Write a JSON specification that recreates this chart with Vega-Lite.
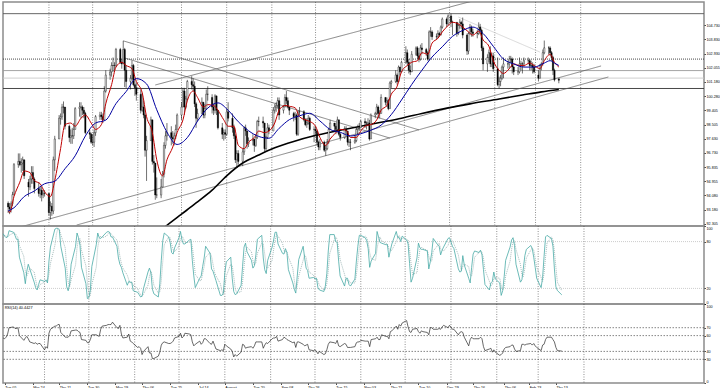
{
"$schema":"https://vega.github.io/schema/vega-lite/v6.json",
"padding":0,
"background":"#ffffff",
"spacing":0,
"bounds":"flush",
"config":{
 "view":{"stroke":"#8c8c8c","strokeWidth":1.5},
 "font":"Liberation Sans",
 "axis":{"labelFont":"Liberation Sans","labelFontSize":3.7,"labelColor":"#000","tickColor":"#000","tickSize":1.5,"tickWidth":0.7,"domain":false,"grid":false,"labelPadding":0.5},
 "concat":{"spacing":0}
},
"datasets":{
"grid":[{"d":"2013-04-01"},{"d":"2013-05-01"},{"d":"2013-06-01"},{"d":"2013-07-01"},{"d":"2013-08-01"},{"d":"2013-09-01"},{"d":"2013-10-01"},{"d":"2013-11-01"},{"d":"2013-12-01"},{"d":"2014-01-01"},{"d":"2014-02-01"},{"d":"2014-03-01"},{"d":"2014-04-01"}],
"hl":[{"v":105.44,"k":"a","t":"105.440"},{"v":102.6,"k":"b","t":"102.600"},{"v":101.88,"k":"c","t":"101.880"},{"v":101.41,"k":"d","t":"101.410"},{"v":100.76,"k":"e","t":"100.760"}],
"tl":[{"d":"2013-06-13","v":100.98,"d2":"2014-01-20","v2":106.31,"k":"s"},{"d":"2013-05-22","v":103.74,"d2":"2013-12-11","v2":98.17,"k":"s"},{"d":"2013-05-23","v":102.67,"d2":"2013-11-21","v2":97.66,"k":"s"},{"d":"2013-03-05","v":91.91,"d2":"2014-04-15","v2":102.17,"k":"s"},{"d":"2013-04-20","v":92.22,"d2":"2014-04-20","v2":101.48,"k":"s"},{"d":"2014-01-07","v":105.23,"d2":"2014-03-04","v2":103.04,"k":"d"}],
"sma":[{"d":"2013-06-10","v":91.4},{"d":"2013-06-21","v":92.2},{"d":"2013-07-01","v":92.9},{"d":"2013-07-11","v":93.6},{"d":"2013-07-22","v":94.4},{"d":"2013-08-01","v":95.3},{"d":"2013-08-12","v":96.1},{"d":"2013-08-23","v":96.6},{"d":"2013-09-03","v":97.05},{"d":"2013-09-16","v":97.45},{"d":"2013-09-30","v":97.8},{"d":"2013-10-15","v":98.1},{"d":"2013-11-01","v":98.4},{"d":"2013-11-15","v":98.65},{"d":"2013-11-29","v":98.9},{"d":"2013-12-13","v":99.2},{"d":"2013-12-31","v":99.55},{"d":"2014-01-15","v":99.8},{"d":"2014-02-04","v":100.1},{"d":"2014-02-20","v":100.35},{"d":"2014-03-05","v":100.55},{"d":"2014-03-17","v":100.7}],
"red":[{"d":"2013-03-04","v":93.1},{"d":"2013-03-05","v":93.0},{"d":"2013-03-08","v":94.0},{"d":"2013-03-12","v":94.9},{"d":"2013-03-15","v":95.6},{"d":"2013-03-19","v":95.5},{"d":"2013-03-22","v":95.0},{"d":"2013-03-26","v":94.8},{"d":"2013-03-29","v":94.3},{"d":"2013-04-02","v":94.0},{"d":"2013-04-05","v":95.0},{"d":"2013-04-09","v":97.0},{"d":"2013-04-12","v":98.5},{"d":"2013-04-16","v":98.6},{"d":"2013-04-19","v":98.4},{"d":"2013-04-23","v":98.9},{"d":"2013-04-26","v":99.1},{"d":"2013-04-30","v":98.6},{"d":"2013-05-03","v":98.2},{"d":"2013-05-07","v":98.5},{"d":"2013-05-10","v":99.8},{"d":"2013-05-14","v":101.0},{"d":"2013-05-17","v":102.1},{"d":"2013-05-21","v":102.4},{"d":"2013-05-24","v":102.2},{"d":"2013-05-28","v":102.0},{"d":"2013-05-31","v":101.2},{"d":"2013-06-04","v":100.5},{"d":"2013-06-07","v":99.0},{"d":"2013-06-11","v":98.0},{"d":"2013-06-14","v":96.3},{"d":"2013-06-18","v":95.3},{"d":"2013-06-21","v":96.3},{"d":"2013-06-25","v":97.1},{"d":"2013-06-28","v":98.0},{"d":"2013-07-02","v":98.8},{"d":"2013-07-05","v":100.0},{"d":"2013-07-09","v":100.6},{"d":"2013-07-12","v":100.2},{"d":"2013-07-16","v":99.6},{"d":"2013-07-19","v":99.75},{"d":"2013-07-23","v":99.7},{"d":"2013-07-26","v":99.4},{"d":"2013-07-30","v":98.8},{"d":"2013-08-02","v":98.4},{"d":"2013-08-06","v":98.4},{"d":"2013-08-09","v":97.2},{"d":"2013-08-13","v":97.0},{"d":"2013-08-16","v":97.4},{"d":"2013-08-20","v":97.7},{"d":"2013-08-23","v":98.1},{"d":"2013-08-27","v":98.0},{"d":"2013-08-30","v":98.1},{"d":"2013-09-03","v":98.6},{"d":"2013-09-06","v":99.4},{"d":"2013-09-10","v":99.7},{"d":"2013-09-13","v":99.65},{"d":"2013-09-17","v":99.55},{"d":"2013-09-20","v":99.0},{"d":"2013-09-24","v":98.8},{"d":"2013-09-27","v":98.7},{"d":"2013-10-01","v":98.4},{"d":"2013-10-04","v":97.7},{"d":"2013-10-08","v":97.2},{"d":"2013-10-11","v":97.6},{"d":"2013-10-15","v":98.0},{"d":"2013-10-18","v":98.2},{"d":"2013-10-22","v":98.15},{"d":"2013-10-25","v":97.7},{"d":"2013-10-29","v":97.7},{"d":"2013-11-01","v":98.1},{"d":"2013-11-05","v":98.45},{"d":"2013-11-08","v":98.5},{"d":"2013-11-12","v":98.8},{"d":"2013-11-15","v":99.4},{"d":"2013-11-19","v":99.7},{"d":"2013-11-22","v":100.4},{"d":"2013-11-26","v":100.9},{"d":"2013-11-29","v":101.8},{"d":"2013-12-03","v":102.2},{"d":"2013-12-06","v":102.4},{"d":"2013-12-10","v":102.5},{"d":"2013-12-13","v":103.0},{"d":"2013-12-17","v":102.9},{"d":"2013-12-20","v":103.6},{"d":"2013-12-24","v":103.9},{"d":"2013-12-27","v":104.3},{"d":"2013-12-31","v":104.7},{"d":"2014-01-03","v":104.9},{"d":"2014-01-07","v":104.8},{"d":"2014-01-10","v":104.6},{"d":"2014-01-14","v":104.3},{"d":"2014-01-17","v":104.1},{"d":"2014-01-21","v":104.35},{"d":"2014-01-24","v":103.8},{"d":"2014-01-28","v":103.4},{"d":"2014-01-31","v":102.5},{"d":"2014-02-04","v":101.9},{"d":"2014-02-07","v":101.7},{"d":"2014-02-11","v":102.0},{"d":"2014-02-14","v":102.3},{"d":"2014-02-18","v":102.2},{"d":"2014-02-21","v":102.2},{"d":"2014-02-25","v":102.35},{"d":"2014-02-28","v":102.2},{"d":"2014-03-04","v":102.0},{"d":"2014-03-07","v":102.5},{"d":"2014-03-11","v":102.9},{"d":"2014-03-14","v":102.4},{"d":"2014-03-17","v":102.1}],
"blue":[{"d":"2013-03-04","v":93.1},{"d":"2013-03-08","v":93.3},{"d":"2013-03-15","v":94.0},{"d":"2013-03-22","v":94.35},{"d":"2013-03-29","v":94.8},{"d":"2013-04-05","v":94.96},{"d":"2013-04-12","v":95.74},{"d":"2013-04-19","v":96.55},{"d":"2013-04-26","v":97.79},{"d":"2013-05-03","v":98.6},{"d":"2013-05-10","v":98.78},{"d":"2013-05-17","v":99.81},{"d":"2013-05-24","v":100.57},{"d":"2013-05-31","v":101.38},{"d":"2013-06-07","v":101.05},{"d":"2013-06-14","v":99.43},{"d":"2013-06-21","v":98.03},{"d":"2013-06-28","v":97.26},{"d":"2013-07-05","v":97.69},{"d":"2013-07-12","v":98.72},{"d":"2013-07-19","v":99.53},{"d":"2013-07-26","v":99.86},{"d":"2013-08-02","v":99.4},{"d":"2013-08-09","v":98.68},{"d":"2013-08-16","v":98.12},{"d":"2013-08-23","v":97.76},{"d":"2013-08-30","v":97.65},{"d":"2013-09-06","v":98.27},{"d":"2013-09-13","v":98.81},{"d":"2013-09-20","v":99.05},{"d":"2013-09-27","v":99.21},{"d":"2013-10-04","v":98.73},{"d":"2013-10-11","v":98.2},{"d":"2013-10-18","v":98.02},{"d":"2013-10-25","v":97.79},{"d":"2013-11-01","v":97.93},{"d":"2013-11-08","v":98.15},{"d":"2013-11-15","v":98.47},{"d":"2013-11-22","v":99.13},{"d":"2013-11-29","v":100.04},{"d":"2013-12-06","v":101.01},{"d":"2013-12-13","v":101.9},{"d":"2013-12-20","v":102.73},{"d":"2013-12-27","v":103.37},{"d":"2014-01-03","v":104.02},{"d":"2014-01-10","v":104.39},{"d":"2014-01-17","v":104.6},{"d":"2014-01-24","v":104.2},{"d":"2014-01-31","v":103.4},{"d":"2014-02-07","v":102.6},{"d":"2014-02-14","v":102.3},{"d":"2014-02-21","v":102.1},{"d":"2014-02-28","v":102.1},{"d":"2014-03-07","v":102.35},{"d":"2014-03-11","v":102.5},{"d":"2014-03-14","v":102.35},{"d":"2014-03-17","v":102.2}],
"slv":[{"v":20},{"v":80}],
"rlv":[{"v":30},{"v":40},{"v":60},{"v":70}],
"p":[
{"d":"2013-03-04","o":93.58,"h":93.7,"l":92.97,"c":93.35,"s":90,"g":85,"r":57},
{"d":"2013-03-05","o":93.35,"h":93.6,"l":92.9,"c":93.22,"s":87,"g":88,"r":56},
{"d":"2013-03-06","o":93.22,"h":93.7,"l":93.0,"c":93.55,"s":85,"g":87,"r":58},
{"d":"2013-03-07","o":93.55,"h":94.3,"l":93.4,"c":94.12,"s":86,"g":86,"r":62},
{"d":"2013-03-08","o":94.12,"h":96.1,"l":94.1,"c":96.0,"s":94,"g":88,"r":70},
{"d":"2013-03-11","o":96.0,"h":96.7,"l":95.8,"c":96.2,"s":92,"g":91,"r":71},
{"d":"2013-03-12","o":96.2,"h":96.7,"l":95.9,"c":96.0,"s":88,"g":91,"r":69},
{"d":"2013-03-13","o":96.0,"h":96.4,"l":95.5,"c":96.1,"s":83,"g":88,"r":69},
{"d":"2013-03-14","o":96.1,"h":96.5,"l":95.6,"c":96.3,"s":83,"g":85,"r":70},
{"d":"2013-03-15","o":96.3,"h":96.3,"l":95.1,"c":95.3,"s":60,"g":75,"r":60},
{"d":"2013-03-18","o":94.9,"h":95.1,"l":94.0,"c":94.6,"s":40,"g":61,"r":54},
{"d":"2013-03-19","o":94.6,"h":95.3,"l":94.4,"c":95.1,"s":26,"g":42,"r":57},
{"d":"2013-03-20","o":95.1,"h":95.9,"l":94.8,"c":95.5,"s":42,"g":36,"r":59},
{"d":"2013-03-21","o":95.5,"h":95.9,"l":94.8,"c":95.1,"s":51,"g":40,"r":56},
{"d":"2013-03-22","o":95.1,"h":95.2,"l":94.2,"c":94.5,"s":45,"g":46,"r":52},
{"d":"2013-03-25","o":94.5,"h":94.9,"l":94.0,"c":94.2,"s":28,"g":41,"r":50},
{"d":"2013-03-26","o":94.2,"h":94.6,"l":93.9,"c":94.4,"s":21,"g":31,"r":51},
{"d":"2013-03-27","o":94.4,"h":94.6,"l":93.7,"c":94.1,"s":18,"g":22,"r":49},
{"d":"2013-03-28","o":94.1,"h":94.4,"l":93.9,"c":94.2,"s":25,"g":21,"r":50},
{"d":"2013-03-29","o":94.2,"h":94.4,"l":94.0,"c":94.2,"s":31,"g":25,"r":50},
{"d":"2013-04-01","o":94.2,"h":94.2,"l":92.8,"c":93.0,"s":29,"g":28,"r":42},
{"d":"2013-04-02","o":93.0,"h":93.7,"l":92.57,"c":93.4,"s":31,"g":30,"r":46},
{"d":"2013-04-03","o":93.4,"h":93.6,"l":92.8,"c":93.1,"s":27,"g":29,"r":44},
{"d":"2013-04-04","o":93.1,"h":96.5,"l":92.9,"c":96.3,"s":55,"g":38,"r":63},
{"d":"2013-04-05","o":96.3,"h":97.8,"l":95.6,"c":97.6,"s":73,"g":52,"r":68},
{"d":"2013-04-08","o":97.6,"h":99.1,"l":97.6,"c":98.9,"s":96,"g":75,"r":72},
{"d":"2013-04-09","o":98.9,"h":99.2,"l":98.5,"c":99.0,"s":97,"g":89,"r":72},
{"d":"2013-04-10","o":99.0,"h":99.8,"l":98.8,"c":99.6,"s":97,"g":97,"r":74},
{"d":"2013-04-11","o":99.6,"h":99.95,"l":99.2,"c":99.6,"s":95,"g":96,"r":74},
{"d":"2013-04-12","o":99.6,"h":99.6,"l":98.2,"c":98.4,"s":74,"g":89,"r":64},
{"d":"2013-04-15","o":98.4,"h":98.5,"l":97.4,"c":97.7,"s":46,"g":72,"r":58},
{"d":"2013-04-16","o":97.7,"h":98.2,"l":97.3,"c":97.8,"s":22,"g":47,"r":58},
{"d":"2013-04-17","o":97.8,"h":98.3,"l":97.3,"c":97.8,"s":17,"g":28,"r":58},
{"d":"2013-04-18","o":97.8,"h":98.6,"l":97.6,"c":98.2,"s":26,"g":22,"r":60},
{"d":"2013-04-19","o":98.2,"h":99.6,"l":98.2,"c":99.5,"s":51,"g":31,"r":66},
{"d":"2013-04-22","o":99.5,"h":99.9,"l":99.0,"c":99.6,"s":74,"g":50,"r":67},
{"d":"2013-04-23","o":99.6,"h":99.9,"l":98.9,"c":99.6,"s":91,"g":72,"r":67},
{"d":"2013-04-24","o":99.6,"h":99.7,"l":99.1,"c":99.4,"s":85,"g":83,"r":65},
{"d":"2013-04-25","o":99.4,"h":99.6,"l":98.9,"c":99.2,"s":75,"g":84,"r":64},
{"d":"2013-04-26","o":99.2,"h":99.3,"l":97.9,"c":98.0,"s":47,"g":69,"r":55},
{"d":"2013-04-29","o":98.0,"h":98.2,"l":97.6,"c":97.9,"s":26,"g":49,"r":54},
{"d":"2013-04-30","o":97.9,"h":98.0,"l":97.3,"c":97.4,"s":7,"g":27,"r":51},
{"d":"2013-05-01","o":97.4,"h":97.9,"l":97.2,"c":97.4,"s":8,"g":14,"r":51},
{"d":"2013-05-02","o":97.4,"h":98.2,"l":97.1,"c":98.0,"s":18,"g":11,"r":55},
{"d":"2013-05-03","o":98.0,"h":99.1,"l":97.8,"c":99.0,"s":48,"g":25,"r":61},
{"d":"2013-05-06","o":99.0,"h":99.3,"l":98.8,"c":99.1,"s":76,"g":47,"r":61},
{"d":"2013-05-07","o":99.1,"h":99.3,"l":98.8,"c":99.0,"s":91,"g":72,"r":60},
{"d":"2013-05-08","o":99.0,"h":99.2,"l":98.6,"c":98.8,"s":85,"g":84,"r":59},
{"d":"2013-05-09","o":98.8,"h":100.9,"l":98.8,"c":100.6,"s":84,"g":87,"r":68},
{"d":"2013-05-10","o":100.6,"h":101.9,"l":100.5,"c":101.6,"s":86,"g":85,"r":72},
{"d":"2013-05-13","o":101.6,"h":102.0,"l":101.3,"c":101.8,"s":92,"g":87,"r":73},
{"d":"2013-05-14","o":101.8,"h":102.4,"l":101.5,"c":102.2,"s":93,"g":90,"r":74},
{"d":"2013-05-15","o":102.2,"h":102.7,"l":101.8,"c":102.2,"s":92,"g":92,"r":74},
{"d":"2013-05-16","o":102.2,"h":102.4,"l":101.9,"c":102.2,"s":86,"g":90,"r":74},
{"d":"2013-05-17","o":102.2,"h":103.3,"l":102.1,"c":103.2,"s":86,"g":88,"r":77},
{"d":"2013-05-20","o":103.2,"h":103.3,"l":102.3,"c":102.4,"s":74,"g":82,"r":70},
{"d":"2013-05-21","o":102.4,"h":102.6,"l":102.0,"c":102.3,"s":59,"g":73,"r":69},
{"d":"2013-05-22","o":102.3,"h":103.74,"l":102.3,"c":103.2,"s":51,"g":61,"r":73},
{"d":"2013-05-23","o":103.2,"h":103.3,"l":100.85,"c":101.9,"s":47,"g":52,"r":62},
{"d":"2013-05-24","o":101.9,"h":102.2,"l":100.8,"c":101.2,"s":40,"g":46,"r":57},
{"d":"2013-05-27","o":101.2,"h":101.6,"l":100.7,"c":101.4,"s":24,"g":37,"r":58},
{"d":"2013-05-28","o":101.4,"h":102.5,"l":101.3,"c":102.2,"s":29,"g":31,"r":62},
{"d":"2013-05-29","o":102.2,"h":102.3,"l":100.9,"c":101.0,"s":28,"g":27,"r":53},
{"d":"2013-05-30","o":101.0,"h":101.3,"l":100.3,"c":100.8,"s":28,"g":28,"r":52},
{"d":"2013-05-31","o":100.8,"h":101.1,"l":100.0,"c":100.4,"s":17,"g":24,"r":50},
{"d":"2013-06-03","o":100.4,"h":100.7,"l":99.2,"c":99.4,"s":15,"g":20,"r":45},
{"d":"2013-06-04","o":99.4,"h":100.5,"l":99.3,"c":99.6,"s":12,"g":15,"r":46},
{"d":"2013-06-05","o":99.6,"h":100.0,"l":98.9,"c":99.1,"s":9,"g":12,"r":44},
{"d":"2013-06-06","o":99.1,"h":99.2,"l":96.5,"c":96.9,"s":10,"g":10,"r":36},
{"d":"2013-06-07","o":96.9,"h":97.8,"l":94.98,"c":97.5,"s":20,"g":13,"r":40},
{"d":"2013-06-10","o":97.5,"h":99.0,"l":97.5,"c":98.8,"s":41,"g":24,"r":46},
{"d":"2013-06-11","o":98.8,"h":98.8,"l":96.0,"c":96.2,"s":46,"g":36,"r":38},
{"d":"2013-06-12","o":96.2,"h":96.6,"l":95.5,"c":96.1,"s":40,"g":42,"r":38},
{"d":"2013-06-13","o":96.1,"h":96.1,"l":93.8,"c":94.1,"s":19,"g":35,"r":31},
{"d":"2013-06-14","o":94.1,"h":95.2,"l":93.9,"c":94.1,"s":13,"g":24,"r":31},
{"d":"2013-06-17","o":94.1,"h":95.1,"l":93.9,"c":94.6,"s":9,"g":14,"r":34},
{"d":"2013-06-18","o":94.6,"h":95.6,"l":94.6,"c":95.4,"s":26,"g":16,"r":39},
{"d":"2013-06-19","o":95.4,"h":97.4,"l":95.2,"c":97.2,"s":56,"g":30,"r":48},
{"d":"2013-06-20","o":97.2,"h":98.1,"l":97.0,"c":97.8,"s":81,"g":54,"r":51},
{"d":"2013-06-21","o":97.8,"h":98.6,"l":97.5,"c":98.0,"s":91,"g":76,"r":52},
{"d":"2013-06-24","o":98.0,"h":98.4,"l":97.2,"c":97.7,"s":86,"g":86,"r":50},
{"d":"2013-06-25","o":97.7,"h":98.1,"l":97.3,"c":97.6,"s":79,"g":85,"r":50},
{"d":"2013-06-26","o":97.6,"h":98.0,"l":97.2,"c":97.8,"s":66,"g":77,"r":51},
{"d":"2013-06-27","o":97.8,"h":98.5,"l":97.6,"c":98.2,"s":64,"g":70,"r":53},
{"d":"2013-06-28","o":98.2,"h":99.2,"l":98.2,"c":99.1,"s":72,"g":67,"r":57},
{"d":"2013-07-01","o":99.1,"h":99.9,"l":98.8,"c":99.6,"s":85,"g":74,"r":59},
{"d":"2013-07-02","o":99.6,"h":100.8,"l":99.6,"c":100.6,"s":93,"g":83,"r":63},
{"d":"2013-07-03","o":100.6,"h":100.8,"l":99.1,"c":99.6,"s":82,"g":87,"r":57},
{"d":"2013-07-04","o":99.6,"h":100.3,"l":99.5,"c":100.1,"s":77,"g":84,"r":59},
{"d":"2013-07-05","o":100.1,"h":101.3,"l":100.0,"c":101.2,"s":77,"g":79,"r":63},
{"d":"2013-07-08","o":101.2,"h":101.53,"l":100.7,"c":101.0,"s":82,"g":79,"r":62},
{"d":"2013-07-09","o":101.0,"h":101.4,"l":100.6,"c":100.9,"s":83,"g":81,"r":61},
{"d":"2013-07-10","o":100.9,"h":101.2,"l":99.6,"c":99.8,"s":56,"g":74,"r":52},
{"d":"2013-07-11","o":99.8,"h":99.9,"l":98.3,"c":98.9,"s":36,"g":58,"r":47},
{"d":"2013-07-12","o":98.9,"h":99.5,"l":98.7,"c":99.2,"s":21,"g":38,"r":49},
{"d":"2013-07-15","o":99.2,"h":100.2,"l":99.2,"c":99.9,"s":33,"g":30,"r":53},
{"d":"2013-07-16","o":99.9,"h":99.9,"l":98.9,"c":99.1,"s":36,"g":30,"r":49},
{"d":"2013-07-17","o":99.1,"h":99.8,"l":98.9,"c":99.5,"s":48,"g":39,"r":51},
{"d":"2013-07-18","o":99.5,"h":100.7,"l":99.5,"c":100.4,"s":59,"g":48,"r":56},
{"d":"2013-07-19","o":100.4,"h":100.9,"l":100.0,"c":100.4,"s":74,"g":60,"r":56},
{"d":"2013-07-22","o":100.2,"h":100.4,"l":99.2,"c":99.6,"s":65,"g":66,"r":50},
{"d":"2013-07-23","o":99.6,"h":99.8,"l":99.1,"c":99.4,"s":45,"g":61,"r":49},
{"d":"2013-07-24","o":99.4,"h":100.4,"l":99.2,"c":100.3,"s":42,"g":51,"r":53},
{"d":"2013-07-25","o":100.3,"h":100.3,"l":99.1,"c":99.4,"s":36,"g":41,"r":48},
{"d":"2013-07-26","o":99.4,"h":99.4,"l":98.2,"c":98.3,"s":30,"g":36,"r":43},
{"d":"2013-07-29","o":98.3,"h":98.6,"l":97.6,"c":97.9,"s":11,"g":26,"r":41},
{"d":"2013-07-30","o":97.9,"h":98.2,"l":97.5,"c":98.0,"s":11,"g":17,"r":42},
{"d":"2013-07-31","o":98.0,"h":98.2,"l":97.6,"c":97.9,"s":14,"g":12,"r":41},
{"d":"2013-08-01","o":97.9,"h":99.5,"l":97.8,"c":99.3,"s":40,"g":22,"r":49},
{"d":"2013-08-02","o":99.3,"h":99.9,"l":98.7,"c":98.9,"s":54,"g":36,"r":47},
{"d":"2013-08-05","o":98.9,"h":99.2,"l":98.0,"c":98.3,"s":60,"g":51,"r":43},
{"d":"2013-08-06","o":98.3,"h":98.5,"l":97.6,"c":97.8,"s":33,"g":49,"r":40},
{"d":"2013-08-07","o":97.8,"h":97.9,"l":96.1,"c":96.3,"s":16,"g":36,"r":33},
{"d":"2013-08-08","o":96.3,"h":96.9,"l":95.8,"c":96.7,"s":12,"g":20,"r":36},
{"d":"2013-08-09","o":96.7,"h":96.9,"l":96.0,"c":96.2,"s":13,"g":14,"r":34},
{"d":"2013-08-12","o":96.2,"h":97.0,"l":95.9,"c":96.8,"s":24,"g":16,"r":39},
{"d":"2013-08-13","o":96.8,"h":98.4,"l":96.6,"c":98.3,"s":48,"g":28,"r":49},
{"d":"2013-08-14","o":98.3,"h":98.5,"l":97.8,"c":98.1,"s":73,"g":48,"r":48},
{"d":"2013-08-15","o":98.1,"h":98.1,"l":97.0,"c":97.3,"s":78,"g":66,"r":44},
{"d":"2013-08-16","o":97.3,"h":97.7,"l":97.1,"c":97.5,"s":67,"g":73,"r":45},
{"d":"2013-08-19","o":97.5,"h":97.9,"l":97.2,"c":97.6,"s":56,"g":67,"r":46},
{"d":"2013-08-20","o":97.6,"h":97.6,"l":96.8,"c":97.2,"s":46,"g":56,"r":44},
{"d":"2013-08-21","o":97.2,"h":97.9,"l":97.1,"c":97.7,"s":49,"g":50,"r":47},
{"d":"2013-08-22","o":97.7,"h":98.8,"l":97.6,"c":98.7,"s":63,"g":53,"r":52},
{"d":"2013-08-23","o":98.7,"h":99.0,"l":98.4,"c":98.7,"s":83,"g":65,"r":52},
{"d":"2013-08-26","o":98.7,"h":99.0,"l":98.3,"c":98.6,"s":88,"g":78,"r":52},
{"d":"2013-08-27","o":98.6,"h":98.6,"l":96.8,"c":97.0,"s":59,"g":77,"r":44},
{"d":"2013-08-28","o":97.0,"h":97.8,"l":96.8,"c":97.7,"s":44,"g":64,"r":48},
{"d":"2013-08-29","o":97.7,"h":98.6,"l":97.6,"c":98.3,"s":39,"g":47,"r":51},
{"d":"2013-08-30","o":98.3,"h":98.5,"l":97.9,"c":98.1,"s":56,"g":46,"r":50},
{"d":"2013-09-02","o":98.1,"h":99.6,"l":98.1,"c":99.4,"s":73,"g":56,"r":56},
{"d":"2013-09-03","o":99.4,"h":99.8,"l":99.2,"c":99.6,"s":82,"g":70,"r":57},
{"d":"2013-09-04","o":99.6,"h":99.9,"l":99.3,"c":99.7,"s":92,"g":82,"r":57},
{"d":"2013-09-05","o":99.7,"h":100.2,"l":99.5,"c":100.0,"s":92,"g":89,"r":59},
{"d":"2013-09-06","o":100.0,"h":100.2,"l":98.8,"c":99.1,"s":77,"g":87,"r":53},
{"d":"2013-09-09","o":99.4,"h":99.7,"l":99.2,"c":99.6,"s":65,"g":78,"r":55},
{"d":"2013-09-10","o":99.6,"h":100.4,"l":99.6,"c":100.2,"s":64,"g":69,"r":58},
{"d":"2013-09-11","o":100.2,"h":100.6,"l":99.8,"c":100.0,"s":71,"g":67,"r":57},
{"d":"2013-09-12","o":100.0,"h":100.2,"l":99.5,"c":99.6,"s":66,"g":67,"r":55},
{"d":"2013-09-13","o":99.6,"h":99.6,"l":99.1,"c":99.4,"s":44,"g":60,"r":54},
{"d":"2013-09-16","o":99.2,"h":99.3,"l":98.7,"c":99.0,"s":27,"g":46,"r":51},
{"d":"2013-09-17","o":99.0,"h":99.3,"l":98.8,"c":99.1,"s":19,"g":30,"r":52},
{"d":"2013-09-18","o":99.1,"h":99.2,"l":97.8,"c":97.9,"s":14,"g":20,"r":45},
{"d":"2013-09-19","o":97.9,"h":99.4,"l":97.8,"c":99.3,"s":36,"g":23,"r":52},
{"d":"2013-09-20","o":99.3,"h":99.6,"l":99.1,"c":99.3,"s":57,"g":36,"r":52},
{"d":"2013-09-23","o":99.3,"h":99.4,"l":98.7,"c":98.8,"s":74,"g":56,"r":49},
{"d":"2013-09-24","o":98.8,"h":98.9,"l":98.4,"c":98.5,"s":59,"g":63,"r":47},
{"d":"2013-09-25","o":98.5,"h":98.9,"l":98.3,"c":98.6,"s":46,"g":60,"r":48},
{"d":"2013-09-26","o":98.6,"h":99.1,"l":98.5,"c":98.9,"s":43,"g":49,"r":49},
{"d":"2013-09-27","o":98.9,"h":99.0,"l":98.1,"c":98.2,"s":33,"g":41,"r":42},
{"d":"2013-09-30","o":98.2,"h":98.4,"l":97.4,"c":98.2,"s":34,"g":37,"r":41},
{"d":"2013-10-01","o":98.2,"h":98.4,"l":97.8,"c":98.1,"s":32,"g":33,"r":42},
{"d":"2013-10-02","o":98.1,"h":98.1,"l":97.2,"c":97.4,"s":33,"g":33,"r":40},
{"d":"2013-10-03","o":97.4,"h":97.5,"l":96.9,"c":97.1,"s":21,"g":29,"r":37},
{"d":"2013-10-04","o":97.1,"h":97.6,"l":96.9,"c":97.4,"s":18,"g":24,"r":40},
{"d":"2013-10-07","o":97.4,"h":97.5,"l":96.8,"c":96.9,"s":16,"g":18,"r":36},
{"d":"2013-10-08","o":96.9,"h":97.2,"l":96.55,"c":97.0,"s":23,"g":19,"r":37},
{"d":"2013-10-09","o":97.0,"h":97.6,"l":96.9,"c":97.4,"s":39,"g":26,"r":42},
{"d":"2013-10-10","o":97.4,"h":98.3,"l":97.3,"c":98.2,"s":68,"g":43,"r":49},
{"d":"2013-10-11","o":98.2,"h":98.8,"l":98.2,"c":98.6,"s":89,"g":65,"r":52},
{"d":"2013-10-14","o":98.6,"h":98.6,"l":98.1,"c":98.4,"s":89,"g":82,"r":51},
{"d":"2013-10-15","o":98.4,"h":98.6,"l":97.9,"c":98.2,"s":80,"g":86,"r":50},
{"d":"2013-10-16","o":98.2,"h":99.0,"l":98.0,"c":98.8,"s":79,"g":83,"r":54},
{"d":"2013-10-17","o":98.8,"h":98.8,"l":97.8,"c":97.9,"s":55,"g":71,"r":47},
{"d":"2013-10-18","o":97.9,"h":98.0,"l":97.5,"c":97.7,"s":36,"g":57,"r":46},
{"d":"2013-10-21","o":97.7,"h":98.4,"l":97.6,"c":98.2,"s":23,"g":38,"r":50},
{"d":"2013-10-22","o":98.2,"h":98.4,"l":97.9,"c":98.1,"s":33,"g":31,"r":49},
{"d":"2013-10-23","o":98.1,"h":98.1,"l":97.2,"c":97.4,"s":33,"g":30,"r":45},
{"d":"2013-10-24","o":97.4,"h":97.6,"l":97.1,"c":97.4,"s":25,"g":30,"r":45},
{"d":"2013-10-25","o":97.4,"h":97.6,"l":96.9,"c":97.4,"s":23,"g":27,"r":45},
{"d":"2013-10-28","o":97.4,"h":97.8,"l":97.3,"c":97.5,"s":32,"g":27,"r":46},
{"d":"2013-10-29","o":97.5,"h":98.3,"l":97.4,"c":98.2,"s":55,"g":37,"r":51},
{"d":"2013-10-30","o":98.2,"h":98.5,"l":97.9,"c":98.3,"s":74,"g":54,"r":52},
{"d":"2013-10-31","o":98.3,"h":98.6,"l":98.1,"c":98.3,"s":88,"g":72,"r":52},
{"d":"2013-11-01","o":98.3,"h":98.8,"l":98.3,"c":98.7,"s":88,"g":83,"r":54},
{"d":"2013-11-04","o":98.7,"h":98.9,"l":98.3,"c":98.6,"s":85,"g":87,"r":53},
{"d":"2013-11-05","o":98.6,"h":98.7,"l":98.2,"c":98.6,"s":81,"g":85,"r":53},
{"d":"2013-11-06","o":98.6,"h":98.9,"l":98.4,"c":98.6,"s":71,"g":79,"r":53},
{"d":"2013-11-07","o":98.6,"h":98.8,"l":97.5,"c":97.6,"s":47,"g":66,"r":46},
{"d":"2013-11-08","o":97.6,"h":99.2,"l":97.6,"c":99.1,"s":55,"g":58,"r":55},
{"d":"2013-11-11","o":99.1,"h":99.3,"l":98.9,"c":99.2,"s":65,"g":56,"r":56},
{"d":"2013-11-12","o":99.2,"h":99.8,"l":99.1,"c":99.6,"s":93,"g":71,"r":58},
{"d":"2013-11-13","o":99.6,"h":99.7,"l":98.9,"c":99.2,"s":86,"g":81,"r":55},
{"d":"2013-11-14","o":99.2,"h":99.4,"l":98.9,"c":99.2,"s":79,"g":86,"r":55},
{"d":"2013-11-15","o":99.2,"h":100.4,"l":99.2,"c":100.2,"s":78,"g":81,"r":61},
{"d":"2013-11-18","o":100.2,"h":100.2,"l":99.7,"c":99.9,"s":76,"g":78,"r":59},
{"d":"2013-11-19","o":99.9,"h":100.2,"l":99.6,"c":100.0,"s":76,"g":77,"r":59},
{"d":"2013-11-20","o":100.0,"h":100.1,"l":99.4,"c":99.5,"s":60,"g":71,"r":56},
{"d":"2013-11-21","o":99.5,"h":101.2,"l":99.5,"c":101.1,"s":69,"g":68,"r":65},
{"d":"2013-11-22","o":101.1,"h":101.3,"l":100.8,"c":101.2,"s":77,"g":69,"r":66},
{"d":"2013-11-25","o":101.2,"h":101.9,"l":101.1,"c":101.6,"s":93,"g":80,"r":72},
{"d":"2013-11-26","o":101.6,"h":101.7,"l":101.0,"c":101.2,"s":85,"g":85,"r":68},
{"d":"2013-11-27","o":101.2,"h":102.2,"l":101.2,"c":102.1,"s":85,"g":88,"r":74},
{"d":"2013-11-28","o":102.1,"h":102.1,"l":101.6,"c":101.8,"s":80,"g":83,"r":72},
{"d":"2013-11-29","o":101.8,"h":102.5,"l":101.8,"c":102.4,"s":87,"g":84,"r":76},
{"d":"2013-12-02","o":102.4,"h":103.4,"l":102.3,"c":103.0,"s":82,"g":83,"r":79},
{"d":"2013-12-03","o":103.0,"h":103.2,"l":102.2,"c":102.4,"s":77,"g":82,"r":71},
{"d":"2013-12-04","o":102.4,"h":102.6,"l":101.7,"c":101.9,"s":52,"g":70,"r":65},
{"d":"2013-12-05","o":101.9,"h":102.2,"l":101.6,"c":101.8,"s":28,"g":52,"r":64},
{"d":"2013-12-06","o":101.8,"h":103.1,"l":101.8,"c":102.9,"s":33,"g":38,"r":68},
{"d":"2013-12-09","o":102.9,"h":103.4,"l":102.8,"c":103.3,"s":59,"g":40,"r":69},
{"d":"2013-12-10","o":103.3,"h":103.4,"l":102.6,"c":102.8,"s":78,"g":57,"r":65},
{"d":"2013-12-11","o":102.8,"h":103.0,"l":102.4,"c":102.6,"s":72,"g":70,"r":63},
{"d":"2013-12-12","o":102.6,"h":103.5,"l":102.5,"c":103.3,"s":70,"g":73,"r":66},
{"d":"2013-12-13","o":103.3,"h":103.6,"l":102.9,"c":103.2,"s":70,"g":71,"r":65},
{"d":"2013-12-16","o":103.2,"h":103.3,"l":102.8,"c":103.0,"s":68,"g":69,"r":64},
{"d":"2013-12-17","o":103.0,"h":103.1,"l":102.5,"c":102.6,"s":45,"g":61,"r":61},
{"d":"2013-12-18","o":102.6,"h":104.4,"l":102.5,"c":104.3,"s":54,"g":56,"r":70},
{"d":"2013-12-19","o":104.3,"h":104.6,"l":104.0,"c":104.3,"s":66,"g":55,"r":70},
{"d":"2013-12-20","o":104.3,"h":104.4,"l":103.8,"c":104.0,"s":84,"g":68,"r":68},
{"d":"2013-12-23","o":104.0,"h":104.2,"l":103.8,"c":104.0,"s":76,"g":75,"r":68},
{"d":"2013-12-24","o":104.0,"h":104.4,"l":103.9,"c":104.2,"s":74,"g":78,"r":69},
{"d":"2013-12-25","o":104.2,"h":104.3,"l":104.0,"c":104.1,"s":63,"g":71,"r":68},
{"d":"2013-12-26","o":104.1,"h":104.7,"l":104.1,"c":104.6,"s":69,"g":69,"r":71},
{"d":"2013-12-27","o":104.6,"h":105.2,"l":104.5,"c":105.1,"s":73,"g":68,"r":73},
{"d":"2013-12-30","o":105.1,"h":105.2,"l":104.6,"c":104.8,"s":84,"g":75,"r":70},
{"d":"2013-12-31","o":104.8,"h":105.4,"l":104.7,"c":105.3,"s":85,"g":81,"r":73},
{"d":"2014-01-02","o":105.3,"h":105.44,"l":104.6,"c":104.9,"s":74,"g":81,"r":68},
{"d":"2014-01-03","o":104.9,"h":105.0,"l":104.1,"c":104.9,"s":71,"g":77,"r":68},
{"d":"2014-01-06","o":104.9,"h":104.9,"l":104.0,"c":104.2,"s":45,"g":63,"r":61},
{"d":"2014-01-07","o":104.2,"h":104.8,"l":104.1,"c":104.7,"s":41,"g":52,"r":64},
{"d":"2014-01-08","o":104.7,"h":105.1,"l":104.5,"c":104.9,"s":42,"g":43,"r":65},
{"d":"2014-01-09","o":104.9,"h":105.0,"l":104.5,"c":104.8,"s":62,"g":48,"r":64},
{"d":"2014-01-10","o":104.8,"h":105.2,"l":103.9,"c":104.1,"s":50,"g":51,"r":58},
{"d":"2014-01-13","o":104.1,"h":104.2,"l":102.86,"c":103.1,"s":33,"g":48,"r":47},
{"d":"2014-01-14","o":103.1,"h":104.3,"l":102.9,"c":104.2,"s":27,"g":37,"r":55},
{"d":"2014-01-15","o":104.2,"h":104.8,"l":104.1,"c":104.6,"s":47,"g":36,"r":58},
{"d":"2014-01-16","o":104.6,"h":104.7,"l":104.0,"c":104.3,"s":64,"g":46,"r":56},
{"d":"2014-01-17","o":104.3,"h":104.5,"l":104.0,"c":104.2,"s":68,"g":60,"r":56},
{"d":"2014-01-20","o":104.2,"h":104.4,"l":103.9,"c":104.2,"s":66,"g":66,"r":56},
{"d":"2014-01-21","o":104.2,"h":104.9,"l":104.1,"c":104.6,"s":69,"g":68,"r":58},
{"d":"2014-01-22","o":104.6,"h":104.8,"l":104.2,"c":104.4,"s":63,"g":66,"r":56},
{"d":"2014-01-23","o":104.4,"h":104.5,"l":103.1,"c":103.3,"s":44,"g":59,"r":46},
{"d":"2014-01-24","o":103.3,"h":103.4,"l":101.9,"c":102.3,"s":25,"g":44,"r":41},
{"d":"2014-01-27","o":102.3,"h":102.9,"l":101.8,"c":102.7,"s":18,"g":29,"r":43},
{"d":"2014-01-28","o":102.7,"h":103.2,"l":102.4,"c":103.0,"s":27,"g":23,"r":44},
{"d":"2014-01-29","o":103.0,"h":103.4,"l":102.1,"c":102.3,"s":29,"g":25,"r":39},
{"d":"2014-01-30","o":102.3,"h":103.0,"l":102.1,"c":102.8,"s":41,"g":32,"r":42},
{"d":"2014-01-31","o":102.8,"h":103.0,"l":101.8,"c":102.0,"s":32,"g":34,"r":39},
{"d":"2014-02-03","o":102.0,"h":102.7,"l":100.9,"c":101.0,"s":27,"g":33,"r":35},
{"d":"2014-02-04","o":101.0,"h":101.5,"l":100.76,"c":101.2,"s":11,"g":23,"r":36},
{"d":"2014-02-05","o":101.2,"h":101.6,"l":100.9,"c":101.4,"s":17,"g":18,"r":38},
{"d":"2014-02-06","o":101.4,"h":102.2,"l":101.3,"c":102.1,"s":35,"g":21,"r":43},
{"d":"2014-02-07","o":102.1,"h":102.7,"l":101.4,"c":102.3,"s":56,"g":36,"r":45},
{"d":"2014-02-10","o":102.3,"h":102.5,"l":102.0,"c":102.3,"s":73,"g":55,"r":46},
{"d":"2014-02-11","o":102.3,"h":102.8,"l":102.0,"c":102.6,"s":82,"g":70,"r":48},
{"d":"2014-02-12","o":102.6,"h":102.8,"l":102.4,"c":102.6,"s":85,"g":80,"r":48},
{"d":"2014-02-13","o":102.6,"h":102.7,"l":101.7,"c":102.1,"s":75,"g":81,"r":43},
{"d":"2014-02-14","o":102.1,"h":102.2,"l":101.6,"c":101.8,"s":51,"g":70,"r":40},
{"d":"2014-02-17","o":101.8,"h":102.1,"l":101.6,"c":101.8,"s":28,"g":51,"r":41},
{"d":"2014-02-18","o":101.8,"h":102.7,"l":101.7,"c":102.3,"s":31,"g":37,"r":49},
{"d":"2014-02-19","o":102.3,"h":102.5,"l":101.9,"c":102.3,"s":46,"g":35,"r":49},
{"d":"2014-02-20","o":102.3,"h":102.4,"l":101.7,"c":102.3,"s":62,"g":46,"r":48},
{"d":"2014-02-21","o":102.3,"h":102.7,"l":102.1,"c":102.5,"s":70,"g":59,"r":49},
{"d":"2014-02-24","o":102.5,"h":102.7,"l":102.3,"c":102.5,"s":75,"g":69,"r":50},
{"d":"2014-02-25","o":102.5,"h":102.6,"l":101.9,"c":102.2,"s":71,"g":72,"r":48},
{"d":"2014-02-26","o":102.2,"h":102.5,"l":101.9,"c":102.2,"s":60,"g":69,"r":50},
{"d":"2014-02-27","o":102.2,"h":102.4,"l":101.7,"c":102.1,"s":47,"g":59,"r":47},
{"d":"2014-02-28","o":102.1,"h":102.3,"l":101.7,"c":101.8,"s":33,"g":47,"r":45},
{"d":"2014-03-03","o":101.6,"h":101.9,"l":101.2,"c":101.4,"s":21,"g":34,"r":41},
{"d":"2014-03-04","o":101.4,"h":102.3,"l":101.4,"c":102.2,"s":34,"g":29,"r":48},
{"d":"2014-03-05","o":102.2,"h":102.4,"l":101.9,"c":102.3,"s":61,"g":39,"r":49},
{"d":"2014-03-06","o":102.3,"h":103.2,"l":102.2,"c":103.0,"s":86,"g":60,"r":55},
{"d":"2014-03-07","o":103.0,"h":103.76,"l":102.9,"c":103.3,"s":88,"g":78,"r":58},
{"d":"2014-03-10","o":103.3,"h":103.4,"l":102.9,"c":103.3,"s":84,"g":86,"r":58},
{"d":"2014-03-11","o":103.3,"h":103.4,"l":102.8,"c":103.0,"s":74,"g":82,"r":55},
{"d":"2014-03-12","o":103.0,"h":103.1,"l":102.5,"c":102.7,"s":45,"g":68,"r":52},
{"d":"2014-03-13","o":102.7,"h":102.8,"l":101.6,"c":101.9,"s":22,"g":47,"r":45},
{"d":"2014-03-14","o":101.9,"h":102.0,"l":101.2,"c":101.3,"s":17.3,"g":28,"r":41},
{"d":"2014-03-17","o":101.364,"h":101.378,"l":101.087,"c":101.277,"s":11.6994,"g":16.9996,"r":40.4427}
]
},
"vconcat":[
{
 "width":701,"height":224,
 "encoding":{"x":{"field":"d","type":"temporal","title":null,"scale":{"type":"utc","nice":false,"domain":[{"year":2013,"month":3,"date":3,"hours":21,"minutes":36,"utc":true},{"year":2014,"month":6,"date":21,"hours":5,"utc":true}]},"axis":null}},
 "layer":[
  {"data":{"name":"grid"},"mark":{"type":"rule","stroke":"#444","strokeWidth":0.6,"strokeDash":[1,1.5]},"encoding":{}},
  {"data":{"name":"hl"},"mark":{"type":"rule","strokeWidth":0.9},"encoding":{
    "x":null,
    "y":{"field":"v","type":"quantitative","title":null,"scale":{"domain":[92.16,106.17],"zero":false,"nice":false},"axis":{"title":null,"orient":"right","values":[92.305,93.18,94.08,94.955,95.835,96.73,97.63,98.505,99.405,100.28,101.18,102.055,102.93,103.83,104.73],"format":".3f","labelOverlap":false}},
    "color":{"field":"k","type":"nominal","scale":{"domain":["a","b","c","d","e"],"range":["#555555","#333333","#9a9a9a","#c8c8c8","#333333"]},"legend":null},
    "strokeDash":{"field":"k","type":"nominal","scale":{"domain":["a","b","c","d","e"],"range":[[1,0],[1,1],[1,0],[1,0],[1,0]]},"legend":null}}},
  {"data":{"name":"tl"},"mark":{"type":"rule","strokeWidth":0.7,"clip":true},"encoding":{
    "y":{"field":"v","type":"quantitative","title":null,"scale":{"domain":[92.16,106.17],"zero":false,"nice":false},"axis":{"title":null,"orient":"right","values":[92.305,93.18,94.08,94.955,95.835,96.73,97.63,98.505,99.405,100.28,101.18,102.055,102.93,103.83,104.73],"format":".3f","labelOverlap":false}},
    "x2":{"field":"d2"},"y2":{"field":"v2"},
    "color":{"field":"k","type":"nominal","scale":{"domain":["s","d"],"range":["#333333","#777777"]},"legend":null},
    "strokeDash":{"field":"k","type":"nominal","scale":{"domain":["s","d"],"range":[[1,0],[3,1.5,1,1.5]]},"legend":null}}},
  {"data":{"name":"sma"},"mark":{"type":"line","stroke":"#000","strokeWidth":1.6,"clip":true,"interpolate":"monotone"},"encoding":{
    "y":{"field":"v","type":"quantitative","title":null,"scale":{"domain":[92.16,106.17],"zero":false,"nice":false},"axis":{"title":null,"orient":"right","values":[92.305,93.18,94.08,94.955,95.835,96.73,97.63,98.505,99.405,100.28,101.18,102.055,102.93,103.83,104.73],"format":".3f","labelOverlap":false}}}},
  {"data":{"name":"p"},"mark":{"type":"rule","stroke":"#111","strokeWidth":0.6},"encoding":{
    "y":{"field":"l","type":"quantitative","title":null,"scale":{"domain":[92.16,106.17],"zero":false,"nice":false},"axis":{"title":null,"orient":"right","values":[92.305,93.18,94.08,94.955,95.835,96.73,97.63,98.505,99.405,100.28,101.18,102.055,102.93,103.83,104.73],"format":".3f","labelOverlap":false}},
    "y2":{"field":"h"}}},
  {"data":{"name":"p"},"mark":{"type":"bar","size":1.3,"stroke":"#000","strokeWidth":0.4},"encoding":{
    "y":{"field":"o","type":"quantitative","title":null,"scale":{"domain":[92.16,106.17],"zero":false,"nice":false},"axis":{"title":null,"orient":"right","values":[92.305,93.18,94.08,94.955,95.835,96.73,97.63,98.505,99.405,100.28,101.18,102.055,102.93,103.83,104.73],"format":".3f","labelOverlap":false}},
    "y2":{"field":"c"},
    "fill":{"condition":{"test":"datum.c >= datum.o","value":"#ffffff"},"value":"#000000"}}},
  {"data":{"name":"red"},"mark":{"type":"line","stroke":"#c00000","strokeWidth":1,"interpolate":"monotone"},"encoding":{
    "y":{"field":"v","type":"quantitative","title":null,"scale":{"domain":[92.16,106.17],"zero":false,"nice":false},"axis":{"title":null,"orient":"right","values":[92.305,93.18,94.08,94.955,95.835,96.73,97.63,98.505,99.405,100.28,101.18,102.055,102.93,103.83,104.73],"format":".3f","labelOverlap":false}}}},
  {"data":{"name":"blue"},"mark":{"type":"line","stroke":"#0000a0","strokeWidth":1,"interpolate":"monotone"},"encoding":{
    "y":{"field":"v","type":"quantitative","title":null,"scale":{"domain":[92.16,106.17],"zero":false,"nice":false},"axis":{"title":null,"orient":"right","values":[92.305,93.18,94.08,94.955,95.835,96.73,97.63,98.505,99.405,100.28,101.18,102.055,102.93,103.83,104.73],"format":".3f","labelOverlap":false}}}},
  {"data":{"name":"hl"},"mark":{"type":"rule","stroke":"#000","strokeWidth":5,"strokeCap":"butt","clip":false},"encoding":{
    "x":{"datum":{"year":2014,"month":6,"date":21,"hours":6,"utc":true},"type":"temporal","title":null,"scale":{"type":"utc","nice":false,"domain":[{"year":2013,"month":3,"date":3,"hours":21,"minutes":36,"utc":true},{"year":2014,"month":6,"date":21,"hours":5,"utc":true}]},"axis":null},
    "x2":{"datum":{"year":2014,"month":7,"date":1,"hours":12,"utc":true}},
    "y":{"field":"v","type":"quantitative","title":null,"scale":{"domain":[92.16,106.17],"zero":false,"nice":false},"axis":{"title":null,"orient":"right","values":[92.305,93.18,94.08,94.955,95.835,96.73,97.63,98.505,99.405,100.28,101.18,102.055,102.93,103.83,104.73],"format":".3f","labelOverlap":false}}}},
  {"data":{"name":"hl"},"mark":{"type":"text","color":"#fff","fontSize":3.6,"align":"left","baseline":"middle","dx":1,"clip":false},"encoding":{
    "x":{"datum":{"year":2014,"month":6,"date":21,"hours":6,"utc":true},"type":"temporal","title":null,"scale":{"type":"utc","nice":false,"domain":[{"year":2013,"month":3,"date":3,"hours":21,"minutes":36,"utc":true},{"year":2014,"month":6,"date":21,"hours":5,"utc":true}]},"axis":null},
    "y":{"field":"v","type":"quantitative","title":null,"scale":{"domain":[92.16,106.17],"zero":false,"nice":false},"axis":{"title":null,"orient":"right","values":[92.305,93.18,94.08,94.955,95.835,96.73,97.63,98.505,99.405,100.28,101.18,102.055,102.93,103.83,104.73],"format":".3f","labelOverlap":false}},
    "text":{"field":"t"}}},
  {"mark":{"type":"text","color":"#000","fontSize":3.8,"align":"left","baseline":"middle"},"encoding":{
    "x":{"datum":{"year":2013,"month":3,"date":5,"utc":true},"type":"temporal","title":null,"scale":{"type":"utc","nice":false,"domain":[{"year":2013,"month":3,"date":3,"hours":21,"minutes":36,"utc":true},{"year":2014,"month":6,"date":21,"hours":5,"utc":true}]},"axis":null},
    "y":{"datum":105.88,"type":"quantitative","title":null,"scale":{"domain":[92.16,106.17],"zero":false,"nice":false},"axis":{"title":null,"orient":"right","values":[92.305,93.18,94.08,94.955,95.835,96.73,97.63,98.505,99.405,100.28,101.18,102.055,102.93,103.83,104.73],"format":".3f","labelOverlap":false}},
    "text":{"value":"▼ USDJPY,Daily  101.364 101.378 101.087 101.277"}}}
 ]
},
{
 "width":701,"height":78,
 "encoding":{"x":{"field":"d","type":"temporal","title":null,"scale":{"type":"utc","nice":false,"domain":[{"year":2013,"month":3,"date":3,"hours":21,"minutes":36,"utc":true},{"year":2014,"month":6,"date":21,"hours":5,"utc":true}]},"axis":null}},
 "layer":[
  {"data":{"name":"grid"},"mark":{"type":"rule","stroke":"#444","strokeWidth":0.6,"strokeDash":[1,1.5]},"encoding":{}},
  {"data":{"name":"slv"},"mark":{"type":"rule","stroke":"#aaaaaa","strokeWidth":0.6,"strokeDash":[1,1]},"encoding":{
    "x":null,
    "y":{"field":"v","type":"quantitative","title":null,"scale":{"domain":[0,100],"nice":false},"axis":{"title":null,"orient":"right","values":[0,20,80,100],"labelFlush":true,"labelOverlap":false}}}},
  {"data":{"name":"p"},"mark":{"type":"line","stroke":"#7f9f9f","strokeWidth":0.7,"strokeDash":[1,1]},"encoding":{
    "y":{"field":"g","type":"quantitative","title":null,"scale":{"domain":[0,100],"nice":false},"axis":{"title":null,"orient":"right","values":[0,20,80,100],"labelFlush":true,"labelOverlap":false}}}},
  {"data":{"name":"p"},"mark":{"type":"line","stroke":"#48aaa6","strokeWidth":0.8},"encoding":{
    "y":{"field":"s","type":"quantitative","title":null,"scale":{"domain":[0,100],"nice":false},"axis":{"title":null,"orient":"right","values":[0,20,80,100],"labelFlush":true,"labelOverlap":false}}}},
  {"mark":{"type":"text","color":"#000","fontSize":3.8,"align":"left","baseline":"middle"},"encoding":{
    "x":{"datum":{"year":2013,"month":3,"date":5,"utc":true},"type":"temporal","title":null,"scale":{"type":"utc","nice":false,"domain":[{"year":2013,"month":3,"date":3,"hours":21,"minutes":36,"utc":true},{"year":2014,"month":6,"date":21,"hours":5,"utc":true}]},"axis":null},
    "y":{"datum":95,"type":"quantitative","title":null,"scale":{"domain":[0,100],"nice":false},"axis":{"title":null,"orient":"right","values":[0,20,80,100],"labelFlush":true,"labelOverlap":false}},
    "text":{"value":"Stoch(5,3,3) 11.6994 16.9996"}}}
 ]
},
{
 "width":701,"height":79,
 "encoding":{"x":{"field":"d","type":"temporal","title":null,"scale":{"type":"utc","nice":false,"domain":[{"year":2013,"month":3,"date":3,"hours":21,"minutes":36,"utc":true},{"year":2014,"month":6,"date":21,"hours":5,"utc":true}]},
   "axis":{"title":null,"values":[{"year":2013,"month":3,"date":5,"utc":true},{"year":2013,"month":3,"date":24,"utc":true},{"year":2013,"month":4,"date":11,"utc":true},{"year":2013,"month":4,"date":30,"utc":true},{"year":2013,"month":5,"date":19,"utc":true},{"year":2013,"month":6,"date":6,"utc":true},{"year":2013,"month":6,"date":25,"utc":true},{"year":2013,"month":7,"date":14,"utc":true},{"year":2013,"month":8,"date":1,"utc":true},{"year":2013,"month":8,"date":20,"utc":true},{"year":2013,"month":9,"date":8,"utc":true},{"year":2013,"month":9,"date":26,"utc":true},{"year":2013,"month":10,"date":15,"utc":true},{"year":2013,"month":11,"date":3,"utc":true},{"year":2013,"month":11,"date":21,"utc":true},{"year":2013,"month":12,"date":10,"utc":true},{"year":2013,"month":12,"date":29,"utc":true},{"year":2014,"month":1,"date":16,"utc":true},{"year":2014,"month":2,"date":6,"utc":true},{"year":2014,"month":2,"date":23,"utc":true},{"year":2014,"month":3,"date":13,"utc":true}],
   "format":"%-d %b %Y","formatType":"utc","labelAlign":"left","labelFlush":false,"labelOverlap":false,"labelBound":false}}},
 "layer":[
  {"data":{"name":"grid"},"mark":{"type":"rule","stroke":"#444","strokeWidth":0.6,"strokeDash":[1,1.5]},"encoding":{}},
  {"data":{"name":"rlv"},"mark":{"type":"rule","stroke":"#333","strokeWidth":0.6,"strokeDash":[1.5,1.5]},"encoding":{
    "x":null,
    "y":{"field":"v","type":"quantitative","title":null,"scale":{"domain":[0,100],"nice":false},"axis":{"title":null,"orient":"right","values":[0,30,40,60,70,100],"labelFlush":true,"labelOverlap":false}}}},
  {"data":{"name":"p"},"mark":{"type":"line","stroke":"#2a2a2a","strokeWidth":0.7},"encoding":{
    "y":{"field":"r","type":"quantitative","title":null,"scale":{"domain":[0,100],"nice":false},"axis":{"title":null,"orient":"right","values":[0,30,40,60,70,100],"labelFlush":true,"labelOverlap":false}}}},
  {"data":{"values":[{"t":"RSI(14) 40.4427","d":"2013-03-05","v":95}]},"mark":{"type":"text","color":"#000","fontSize":3.8,"align":"left","baseline":"middle"},"encoding":{
    "y":{"field":"v","type":"quantitative","title":null,"scale":{"domain":[0,100],"nice":false},"axis":{"title":null,"orient":"right","values":[0,30,40,60,70,100],"labelFlush":true,"labelOverlap":false}},
    "text":{"field":"t"}}}
 ]
}
]
}
